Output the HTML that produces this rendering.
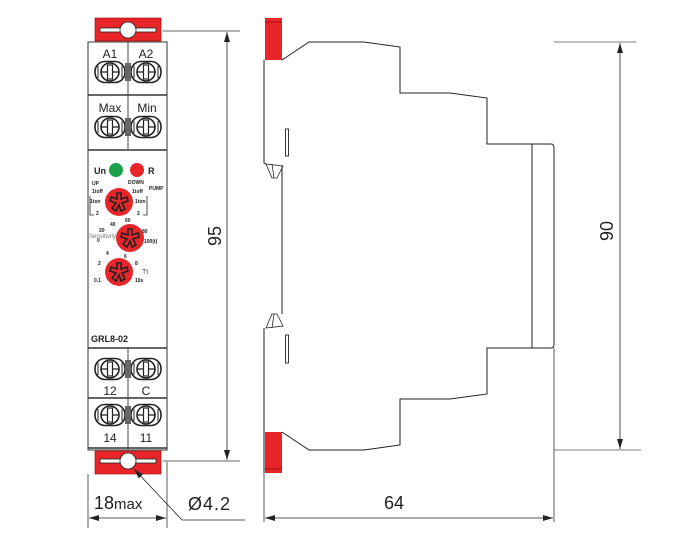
<!DOCTYPE html>
<html><head><meta charset="utf-8"><style>
html,body{margin:0;padding:0;background:#fff;width:700px;height:540px;overflow:hidden}
text{font-family:"Liberation Sans",sans-serif}
</style></head><body>
<svg width="700" height="540" viewBox="0 0 700 540" xmlns="http://www.w3.org/2000/svg">
<defs>
<marker id="ar" viewBox="0 0 10 6" refX="10" refY="3" markerWidth="10" markerHeight="6" orient="auto-start-reverse" markerUnits="userSpaceOnUse"><path d="M0,0 L10,3 L0,6 z" fill="#222"/></marker>
<g id="screw">
<rect x="-15" y="-10.5" width="30" height="21" rx="10" fill="#fff" stroke="#222" stroke-width="1.6"/>
<circle r="9" fill="#fff" stroke="#222" stroke-width="1.6"/>
<line x1="-9" y1="0" x2="9" y2="0" stroke="#222" stroke-width="1.2"/>
<rect x="-2.5" y="-7" width="5" height="14" fill="#fff" stroke="#222" stroke-width="1.2"/>
<line x1="-12" y1="-6" x2="-12" y2="6" stroke="#222" stroke-width="1"/>
<line x1="12" y1="-6" x2="12" y2="6" stroke="#222" stroke-width="1"/>
</g>
<g id="dial">
<circle r="14" fill="#e8262a"/>
<path d="M-2,-9 L2,-9 L2,-3 L8,-5 L9,-1 L3,1 L6,7 L2,9 L0,3 L-3,9 L-7,6 L-3,1 L-9,-1 L-8,-5 L-2,-3 z" fill="none" stroke="#222" stroke-width="1.6"/>
</g>
</defs>

<rect x="88" y="42" width="79" height="408" fill="#fff" stroke="#333" stroke-width="1"/>
<line x1="88" y1="95" x2="167" y2="95" stroke="#333" stroke-width="1.5"/>
<line x1="88" y1="150" x2="167" y2="150" stroke="#333" stroke-width="1.5"/>
<line x1="88" y1="348" x2="167" y2="348" stroke="#333" stroke-width="1.5"/>
<line x1="88" y1="398" x2="167" y2="398" stroke="#333" stroke-width="1.5"/>
<line x1="88" y1="448" x2="167" y2="448" stroke="#333" stroke-width="1.5"/>
<line x1="128" y1="42" x2="128" y2="150" stroke="#444" stroke-width="1"/>
<line x1="128" y1="348" x2="128" y2="450" stroke="#444" stroke-width="1"/>
<rect x="95" y="18" width="66" height="23" fill="#e8262a" stroke="#900" stroke-width="0.6"/>
<rect x="100" y="28" width="56" height="4" fill="#fff" stroke="#222" stroke-width="0.8"/>
<circle cx="128" cy="30" r="8" fill="#fff" stroke="#222" stroke-width="0.8"/>
<rect x="95" y="451" width="66" height="23" fill="#e8262a" stroke="#900" stroke-width="0.6"/>
<rect x="100" y="459" width="56" height="4" fill="#fff" stroke="#222" stroke-width="0.8"/>
<circle cx="128" cy="461" r="8" fill="#fff" stroke="#222" stroke-width="0.8"/>
<g font-size="12" fill="#222" text-anchor="middle">
<text x="110" y="58">A1</text><text x="146" y="58">A2</text>
<text x="110" y="112">Max</text><text x="147" y="112">Min</text>
<text x="110" y="395">12</text><text x="146" y="395">C</text>
<text x="110" y="442">14</text><text x="146" y="442">11</text>
</g>
<use href="#screw" x="110" y="72"/><use href="#screw" x="146" y="72"/>
<use href="#screw" x="110" y="127"/><use href="#screw" x="146" y="127"/>
<use href="#screw" x="110" y="369"/><use href="#screw" x="146" y="369"/>
<use href="#screw" x="110" y="415"/><use href="#screw" x="146" y="415"/>
<rect x="125" y="63" width="6" height="18" fill="#666"/>
<rect x="125" y="118" width="6" height="18" fill="#666"/>
<rect x="125" y="360" width="6" height="18" fill="#666"/>
<rect x="125" y="406" width="6" height="18" fill="#666"/>
<text x="94" y="174" font-size="9" font-weight="bold" fill="#222">Un</text>
<circle cx="116" cy="170" r="7" fill="#1aa34a"/>
<circle cx="137" cy="170" r="7" fill="#e8262a"/>
<text x="148" y="174" font-size="9" font-weight="bold" fill="#222">R</text>
<g font-size="5" font-weight="bold" fill="#222">
<text x="92" y="185">UP</text><text x="128" y="184">DOWN</text><text x="149" y="190">PUMP</text>
<text x="92" y="193">1toff</text><text x="132" y="193">1toff</text>
<text x="90" y="203">1ton</text><text x="135" y="203">1ton</text>
<text x="96" y="215">2</text><text x="137" y="215">2</text>
<text x="110" y="226">40</text><text x="125" y="222">60</text><text x="99" y="232">20</text><text x="142" y="233">80</text>
<text x="97" y="242">0</text><text x="144" y="243">100(t)</text>
<text x="106" y="255">4</text><text x="124" y="258">6</text><text x="98" y="265">2</text><text x="135" y="265">8</text>
<text x="94" y="282">0.1</text><text x="135" y="282">10s</text>
</g>
<path d="M90,196 V215 H94 M147,196 V215 H143" fill="none" stroke="#222" stroke-width="0.8"/>
<text x="89" y="238" font-size="6" fill="#777">Sensitivity</text>
<text x="142" y="274" font-size="7" fill="#555">Tt</text>
<use href="#dial" x="119" y="202"/>
<use href="#dial" x="130" y="238"/>
<use href="#dial" x="119" y="272"/>
<text x="91" y="342" font-size="9" font-weight="bold" fill="#222">GRL8-02</text>

<line x1="163" y1="31" x2="240" y2="31" stroke="#333" stroke-width="0.8"/>
<line x1="163" y1="461" x2="240" y2="461" stroke="#333" stroke-width="0.8"/>
<line x1="227" y1="32" x2="227" y2="460" stroke="#222" stroke-width="0.8" marker-start="url(#ar)" marker-end="url(#ar)"/>
<text transform="translate(221,236) rotate(-90)" font-size="18" fill="#222" text-anchor="middle">95</text>

<line x1="88" y1="474" x2="88" y2="528" stroke="#333" stroke-width="0.8"/>
<line x1="167" y1="462" x2="167" y2="528" stroke="#333" stroke-width="0.8"/>
<line x1="89" y1="518" x2="166" y2="518" stroke="#222" stroke-width="0.8" marker-start="url(#ar)" marker-end="url(#ar)"/>
<text x="94" y="509" font-size="18" fill="#222">18<tspan font-size="15">max</tspan></text>
<text x="188" y="510" font-size="18" fill="#222" letter-spacing="1">Ø4.2</text>
<line x1="182" y1="520" x2="245" y2="520" stroke="#222" stroke-width="0.8"/>
<line x1="182" y1="520" x2="134" y2="469" stroke="#222" stroke-width="0.8" marker-end="url(#ar)"/>

<rect x="265" y="18" width="17" height="42" fill="#e8262a"/>
<line x1="265" y1="22" x2="282" y2="22" stroke="#900" stroke-width="0.8"/>
<rect x="265" y="432" width="17" height="41" fill="#e8262a"/>
<line x1="265" y1="469" x2="282" y2="469" stroke="#900" stroke-width="0.8"/>
<path d="M264,60 V163 L266,164 M282,60 L309,42 H364 L400,47 V93 H450 L487,98 V144 H551 Q554,144 554,148 V344 Q554,348 551,348 H487 V394 L450,399 H400 V445 L364,450 H309 L282,432 M264,328 V473"
 fill="none" stroke="#222" stroke-width="1"/>
<path d="M282,166 V314" fill="none" stroke="#222" stroke-width="1"/>
<path d="M266,164 L283,166 L277,178 H272 Z M272,164 L274,178" fill="none" stroke="#222" stroke-width="0.8"/>
<path d="M266,328 L283,326 L277,314 H272 Z M272,328 L274,314" fill="none" stroke="#222" stroke-width="0.8"/>
<rect x="285.5" y="129" width="3" height="27" fill="#fff" stroke="#222" stroke-width="0.9"/>
<rect x="285.5" y="335" width="3" height="28" fill="#fff" stroke="#222" stroke-width="0.9"/>
<line x1="532" y1="144" x2="532" y2="348" stroke="#222" stroke-width="1"/>
<line x1="554" y1="42" x2="636" y2="42" stroke="#555" stroke-width="0.8"/>
<line x1="554" y1="450" x2="641" y2="450" stroke="#555" stroke-width="0.8"/>
<line x1="620" y1="43" x2="620" y2="449" stroke="#222" stroke-width="0.8" marker-start="url(#ar)" marker-end="url(#ar)"/>
<text transform="translate(613,231) rotate(-90)" font-size="18" fill="#222" text-anchor="middle">90</text>
<line x1="264" y1="473" x2="264" y2="522" stroke="#333" stroke-width="0.8"/>
<line x1="554" y1="348" x2="554" y2="522" stroke="#333" stroke-width="0.8"/>
<line x1="265" y1="518" x2="553" y2="518" stroke="#222" stroke-width="0.8" marker-start="url(#ar)" marker-end="url(#ar)"/>
<text x="394" y="509" font-size="18" fill="#222" text-anchor="middle">64</text>
</svg>
</body></html>
